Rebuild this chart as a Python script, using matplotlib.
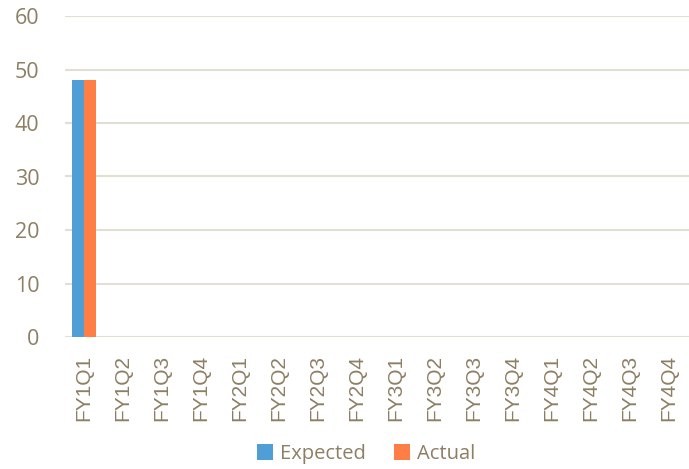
import numpy as np
import matplotlib.pyplot as plt

categories = ["FY1Q1", "FY1Q2", "FY1Q3", "FY1Q4", "FY2Q1", "FY2Q2", "FY2Q3", "FY2Q4",
              "FY3Q1", "FY3Q2", "FY3Q3", "FY3Q4", "FY4Q1", "FY4Q2", "FY4Q3", "FY4Q4"]
expected = [48, 0, 0, 0, 0, 0, 0, 0, 0, 0, 0, 0, 0, 0, 0, 0]
actual = [48, 0, 0, 0, 0, 0, 0, 0, 0, 0, 0, 0, 0, 0, 0, 0]

txt = "#8C7F63"
grid = "#E3DED3"

fig = plt.figure(figsize=(6.89, 4.69), dpi=100)
ax = fig.add_axes([64.5 / 689, 1 - 337 / 469, 624 / 689, 321 / 469])

x = np.arange(len(categories))
w = 0.295
ax.bar(x - w / 2, expected, w, color="#4F9FD6", label="Expected")
ax.bar(x + w / 2, actual, w, color="#FF7E45", label="Actual")

ax.set_xlim(-0.5, len(categories) - 0.5)
ax.set_ylim(0, 60)
ax.set_yticks(range(0, 61, 10))
ax.set_xticks(x)
ax.set_xticklabels(categories, rotation=90, fontsize=15, color=txt, family="Liberation Sans")
for lab in ax.get_yticklabels():
    lab.set_fontsize(15.5)
    lab.set_color(txt)
    lab.set_family("Open Sans")
ax.tick_params(axis="both", length=0)
ax.tick_params(axis="x", pad=13)
ax.tick_params(axis="y", pad=18)
ax.yaxis.grid(True, color=grid, linewidth=1.5)
ax.set_axisbelow(True)
for s in ax.spines.values():
    s.set_visible(False)

leg = fig.legend(loc="center", bbox_to_anchor=(366 / 689, 1 - 454 / 469), ncol=2, frameon=False,
                 handlelength=0.8, handleheight=0.8, handletextpad=0.35, columnspacing=1.4,
                 prop={"family": "Open Sans", "size": 14.5})
for t in leg.get_texts():
    t.set_color(txt)

fig.savefig("out.png", dpi=100)
